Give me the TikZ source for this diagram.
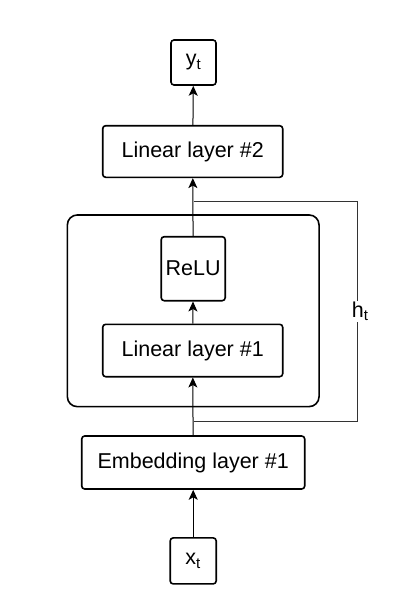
\documentclass[tikz,border=0pt]{standalone}
\usepackage{fontspec}
\setmainfont{Liberation Sans}
\usetikzlibrary{arrows.meta}

\begin{document}
\begin{tikzpicture}[
		x=1pt, y=-1pt,
		layer/.style={draw, line width=1.6pt, rounded corners=3pt, inner sep=0pt, font=\fontsize{21.5}{25}\selectfont},
		io/.style={layer, minimum width=45pt, minimum height=45pt},
		flow/.style={line width=1pt, ->},
		fb/.style={line width=0.9pt, draw=black!80},
		>={Stealth[length=10pt,width=9pt,inset=2.5pt]}]
	\useasboundingbox (0,0) rectangle (412,610);
	%% outer block
	\node (block) at (193.2,310.8) [draw, line width=1.6pt, rounded corners=10pt, minimum width=251.7pt, minimum height=191.7pt] {};
	%% layers
	\node (yt) at (193.5,62.5) [io] {y\textsubscript{t}};
	\node (lin2) at (192.7,151.5) [layer, minimum width=180pt, minimum height=51.6pt] {Linear layer \#2};
	\node (relu) at (193.2,268.7) [layer, minimum width=64pt, minimum height=64pt] {ReLU};
	\node (lin1) at (192.7,350.5) [layer, minimum width=180pt, minimum height=52.4pt] {Linear layer \#1};
	\node (emb) at (193.2,462.5) [layer, minimum width=223pt, minimum height=53pt] {Embedding layer \#1};
	\node (xt) at (193.2,560.9) [io, minimum width=46pt, minimum height=46pt] {x\textsubscript{t}};
	%% forward pass
	\draw[flow] (xt) -- (emb);
	\draw[flow] (emb) -- (lin1);
	\draw[flow] (lin1) -- (relu);
	\draw[flow] (relu) -- (lin2);
	\draw[flow] (lin2) -- (yt);
	%% hidden state bracket
	\coordinate (htop) at (193.5,201.7);
	\coordinate (hbot) at (193.5,421);
	\draw[fb] (htop) -- ++(164.2,0) |- (hbot)
		node[pos=0.25, fill=white, inner sep=1pt, xshift=2.5pt, font=\fontsize{21.5}{25}\selectfont] {h\textsubscript{t}};
\end{tikzpicture}
\end{document}
